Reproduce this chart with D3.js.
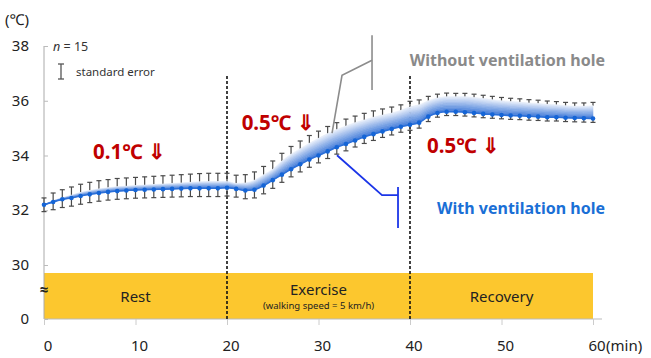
<!DOCTYPE html>
<html>
<head>
<meta charset="utf-8">
<script src="https://cdn.jsdelivr.net/npm/d3@7"></script>
<style>
  body { margin: 0; background: #fff; }
  svg text { font-family: "Noto Sans", "Open Sans", sans-serif; }
</style>
</head>
<body>
<div id="chart"></div>
<script>
// --- data ---
var minutes = d3.range(0, 61);

var withoutHole = [
  32.2, 32.35, 32.45, 32.55, 32.65, 32.72, 32.78, 32.82, 32.86, 32.88,
  32.9, 32.92, 32.94, 32.96, 32.98, 33.0, 33.02, 33.04, 33.05, 33.05,
  33.05, 32.98, 33.0, 33.1, 33.3, 33.5, 33.8, 34.05, 34.25, 34.45,
  34.63, 34.8, 34.95, 35.08, 35.2, 35.3, 35.4, 35.48, 35.55, 35.65,
  35.78, 35.85, 36.0, 36.1, 36.15, 36.15, 36.15, 36.12, 36.08, 36.04,
  36.0, 35.97, 35.95, 35.92, 35.9, 35.87, 35.85, 35.82, 35.8, 35.8,
  35.82
];

var withHole = [
  32.2, 32.3, 32.4, 32.45, 32.52, 32.58, 32.63, 32.67, 32.7, 32.72,
  32.74, 32.75, 32.76, 32.77, 32.78, 32.79, 32.8, 32.8, 32.8, 32.8,
  32.82, 32.78, 32.72, 32.75, 32.9, 33.1, 33.3, 33.5, 33.68, 33.85,
  34.0, 34.15, 34.3, 34.42, 34.55, 34.68, 34.78, 34.88, 34.97, 35.05,
  35.12, 35.2, 35.42, 35.55, 35.6, 35.6, 35.58, 35.55, 35.52, 35.5,
  35.48, 35.46, 35.45, 35.43, 35.42, 35.4, 35.4, 35.38, 35.37, 35.36,
  35.35
];

// standard errors (upper series drawn up, lower series drawn down)
var seWithout = [
  0.25, 0.28, 0.3, 0.3, 0.3, 0.3, 0.3, 0.3, 0.3, 0.3,
  0.3, 0.3, 0.3, 0.3, 0.3, 0.3, 0.3, 0.3, 0.3, 0.3,
  0.3, 0.3, 0.3, 0.3, 0.3, 0.3, 0.28, 0.28, 0.28, 0.28,
  0.26, 0.26, 0.25, 0.25, 0.24, 0.24, 0.23, 0.22, 0.22, 0.2,
  0.2, 0.18, 0.16, 0.14, 0.13, 0.12, 0.12, 0.12, 0.12, 0.12,
  0.12, 0.12, 0.12, 0.12, 0.12, 0.12, 0.12, 0.12, 0.12, 0.12,
  0.12
];
var seWith = [
  0.25, 0.28, 0.3, 0.3, 0.3, 0.3, 0.3, 0.3, 0.3, 0.3,
  0.3, 0.3, 0.3, 0.3, 0.3, 0.3, 0.3, 0.3, 0.3, 0.3,
  0.3, 0.3, 0.3, 0.3, 0.3, 0.3, 0.28, 0.28, 0.28, 0.28,
  0.27, 0.26, 0.25, 0.25, 0.24, 0.24, 0.23, 0.22, 0.22, 0.2,
  0.2, 0.2, 0.18, 0.15, 0.14, 0.14, 0.14, 0.14, 0.14, 0.14,
  0.14, 0.14, 0.14, 0.14, 0.14, 0.14, 0.14, 0.14, 0.14, 0.14,
  0.14
];

var xTicks = [0, 10, 20, 30, 40, 50, 60];
var yTicks = [0, 30, 32, 34, 36, 38];
var phases = ["Rest", "Exercise", "Recovery"];
var phaseStarts = [0, 20, 40];
var phaseEnds = [20, 40, 60];
var diffLabels = ["0.1℃ ⇓", "0.5℃ ⇓", "0.5℃ ⇓"];

// --- helpers ---
function translate(x, y) {
  return "translate(" + x + ", " + y + ")";
}

var w = 651, h = 358;
var svg = d3.select("#chart").append("svg")
  .attr("width", w)
  .attr("height", h);

// broken y axis : 0..30 squeezed, 30..38 regular
var x = d3.scaleLinear().domain([0, 60]).range([44, 593]);
var y = d3.scaleLinear().domain([0, 30, 38]).range([319, 265, 46]);

// --- phase band (yellow) ---
var band = svg.append("g");
band.append("rect")
  .attr("x", x(0))
  .attr("y", y(30) + 8)
  .attr("width", x(60) - x(0))
  .attr("height", y(0) - y(30) - 8)
  .attr("fill", "#fcc72e");

band.selectAll(".phase")
  .data(phases)
  .enter()
  .append("text")
  .attr("class", "phase")
  .attr("x", function (d, i) { return (x(phaseStarts[i]) + x(phaseEnds[i])) / 2; })
  .attr("y", function (d, i) { return i == 1 ? 295 : 302; })
  .attr("text-anchor", "middle")
  .attr("font-size", "15px")
  .attr("fill", "#222")
  .text(function (d) { return d; });

band.append("text")
  .attr("x", (x(20) + x(40)) / 2)
  .attr("y", 309)
  .attr("text-anchor", "middle")
  .attr("font-size", "9.5px")
  .attr("fill", "#222")
  .text("(walking speed = 5 km/h)");

// --- axes ---
var yAxis = svg.append("g")
  .attr("transform", translate(x(0), 0))
  .call(d3.axisRight(y).tickValues(yTicks).tickSize(4).tickFormat(""));
yAxis.select(".domain").attr("stroke", "#aaa").attr("d", "M0," + y(38) + "V" + y(0));
yAxis.selectAll(".tick line").attr("stroke", "#bbb");

svg.selectAll(".ylab")
  .data(yTicks)
  .enter()
  .append("text")
  .attr("class", "ylab")
  .attr("x", 29)
  .attr("y", function (d) { return y(d) + 5; })
  .attr("text-anchor", "end")
  .attr("font-size", "15px")
  .attr("fill", "#222")
  .text(function (d) { return d; });

svg.append("text")
  .attr("x", 5).attr("y", 25)
  .attr("font-size", "15px")
  .attr("fill", "#222")
  .text("(℃)");

var xAxis = svg.append("g")
  .attr("transform", translate(0, y(0)))
  .call(d3.axisBottom(x).tickValues(xTicks).tickSize(6).tickFormat(""));
xAxis.select(".domain").attr("stroke", "#bbb").attr("d", "M" + x(0) + ",0H" + (x(60) + 9));
xAxis.selectAll(".tick line").attr("stroke", "#ccc");

svg.selectAll(".xlab")
  .data(xTicks)
  .enter()
  .append("text")
  .attr("class", "xlab")
  .attr("x", function (d) { return x(d) + 4; })
  .attr("y", 351)
  .attr("text-anchor", "middle")
  .attr("font-size", "15px")
  .attr("fill", "#222")
  .text(function (d) { return d; });

svg.append("text")
  .attr("x", x(60) + 13).attr("y", 351)
  .attr("font-size", "15px")
  .attr("fill", "#222")
  .text("(min)");

// axis break mark
svg.append("text")
  .attr("x", x(0)).attr("y", 295)
  .attr("text-anchor", "middle")
  .attr("font-size", "15px")
  .attr("font-weight", "bold")
  .attr("fill", "#222")
  .text("≈");

// --- phase dividers ---
svg.selectAll(".divider")
  .data([20, 40])
  .enter()
  .append("line")
  .attr("x1", function (d) { return x(d); })
  .attr("x2", function (d) { return x(d); })
  .attr("y1", y(36.9))
  .attr("y2", y(0))
  .attr("stroke", "#111")
  .attr("stroke-width", 1.6)
  .attr("stroke-dasharray", "3,2");

// --- error bars ---
function errorBars(vals, se, dir) {
  var g = svg.append("g").attr("stroke", "#4a4a4a").attr("stroke-width", 1.2);
  g.selectAll("line.v")
    .data(minutes)
    .enter()
    .append("line")
    .attr("x1", function (d) { return x(d); })
    .attr("x2", function (d) { return x(d); })
    .attr("y1", function (d) { return y(vals[d]); })
    .attr("y2", function (d) { return y(vals[d] + dir * se[d]); });
  g.selectAll("line.c")
    .data(minutes)
    .enter()
    .append("line")
    .attr("x1", function (d) { return x(d) - 2.5; })
    .attr("x2", function (d) { return x(d) + 2.5; })
    .attr("y1", function (d) { return y(vals[d] + dir * se[d]); })
    .attr("y2", function (d) { return y(vals[d] + dir * se[d]); });
}
errorBars(withoutHole, seWithout, 1);
errorBars(withHole, seWith, -1);

// --- gradient band between the two curves (stacked slices) ---
var nSlices = 10;
var sliceColor = d3.interpolateRgb("#eef2fb", "#3c78d8");
for (var k = 0; k < nSlices; k++) {
  var t0 = k / nSlices, t1 = (k + 1) / nSlices;
  var area = d3.area()
    .curve(d3.curveMonotoneX)
    .x(function (d) { return x(d); })
    .y0((function (t) {
      return function (d) { return y(withoutHole[d] + (withHole[d] - withoutHole[d]) * t); };
    })(t1))
    .y1((function (t) {
      return function (d) { return y(withoutHole[d] + (withHole[d] - withoutHole[d]) * t); };
    })(t0));
  svg.append("path")
    .datum(minutes)
    .attr("d", area)
    .attr("fill", sliceColor((k + 0.5) / nSlices))
    .attr("stroke", sliceColor((k + 0.5) / nSlices))
    .attr("stroke-width", 0.6);
}

// lower series line + dots
svg.append("path")
  .datum(minutes)
  .attr("d", d3.line().curve(d3.curveMonotoneX)
    .x(function (d) { return x(d); })
    .y(function (d) { return y(withHole[d]); }))
  .attr("fill", "none")
  .attr("stroke", "#2b6fd8")
  .attr("stroke-width", 1.5);

svg.selectAll(".dot")
  .data(minutes)
  .enter()
  .append("circle")
  .attr("class", "dot")
  .attr("cx", function (d) { return x(d); })
  .attr("cy", function (d) { return y(withHole[d]); })
  .attr("r", 2.3)
  .attr("fill", "#1565d6");

// --- legend ---
svg.append("text")
  .attr("x", 53).attr("y", 51)
  .attr("font-size", "12.5px")
  .attr("fill", "#333")
  .html("<tspan font-style='italic'>n</tspan> = 15");

var eb = svg.append("g").attr("stroke", "#555").attr("stroke-width", 1.3);
eb.append("line").attr("x1", 61).attr("x2", 61).attr("y1", 64).attr("y2", 79);
eb.append("line").attr("x1", 58).attr("x2", 64).attr("y1", 64).attr("y2", 64);
eb.append("line").attr("x1", 58).attr("x2", 64).attr("y1", 79).attr("y2", 79);

svg.append("text")
  .attr("x", 76).attr("y", 76)
  .attr("font-size", "11.5px")
  .attr("fill", "#333")
  .text("standard error");

// --- difference labels ---
var diffPos = [[5.35, 33.88], [21.6, 34.93], [41.85, 34.09]];
svg.selectAll(".diff")
  .data(diffLabels)
  .enter()
  .append("text")
  .attr("class", "diff")
  .attr("x", function (d, i) { return x(diffPos[i][0]); })
  .attr("y", function (d, i) { return y(diffPos[i][1]); })
  .attr("text-anchor", "start")
  .attr("font-size", "20.5px")
  .attr("font-weight", "bold")
  .attr("fill", "#c00000")
  .text(function (d) { return d; });

// --- leader lines + series labels ---
var leader = d3.line()
  .x(function (d) { return x(d[0]); })
  .y(function (d) { return y(d[1]); });

svg.append("path")
  .attr("d", leader([[31.48, 34.82], [32.57, 36.93], [35.85, 37.48]]))
  .attr("fill", "none").attr("stroke", "#8c8c8c").attr("stroke-width", 1.6);
svg.append("path")
  .attr("d", leader([[35.85, 38.39], [35.85, 36.39]]))
  .attr("fill", "none").attr("stroke", "#8c8c8c").attr("stroke-width", 1.6);

svg.append("path")
  .attr("d", leader([[32.02, 34.01], [36.94, 32.55], [38.69, 32.55]]))
  .attr("fill", "none").attr("stroke", "#1b35e8").attr("stroke-width", 1.8);
svg.append("path")
  .attr("d", leader([[38.69, 32.85], [38.69, 31.35]]))
  .attr("fill", "none").attr("stroke", "#1b35e8").attr("stroke-width", 1.8);

svg.append("text")
  .attr("x", 605).attr("y", 66)
  .attr("text-anchor", "end")
  .attr("font-size", "16px")
  .attr("font-weight", "bold")
  .attr("fill", "#8a8a8a")
  .text("Without ventilation hole");

svg.append("text")
  .attr("x", 605).attr("y", 214)
  .attr("text-anchor", "end")
  .attr("font-size", "16px")
  .attr("font-weight", "bold")
  .attr("fill", "#1a6fd6")
  .text("With ventilation hole");
</script>
</body>
</html>
